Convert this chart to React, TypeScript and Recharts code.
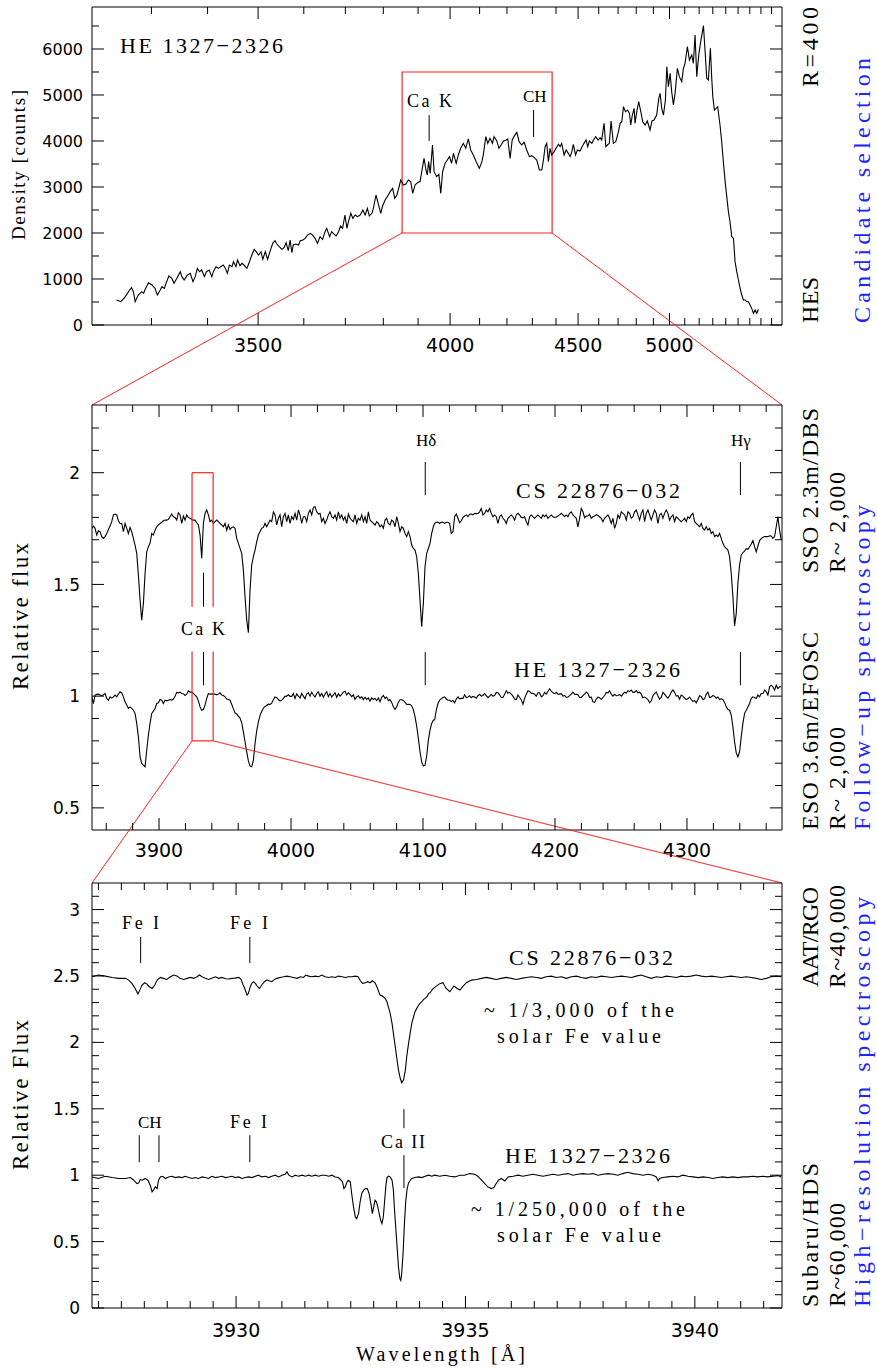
import React from 'react';
import { LineChart, Line, XAxis, YAxis, ReferenceArea, ReferenceLine } from 'recharts';

// ================= DATA =================
// Panel 1: HES objective-prism spectrum, [wavelength Å, density counts]
const HES_SPECTRUM: [number, number][] = [
  [3243,543],[3250,507],[3257,616],[3264,761],[3267,812],[3270,725],[3273,507],[3278,652],[3284,725],[3287,688],
  [3289,761],[3295,920],[3301,870],[3306,797],[3310,652],[3315,761],[3318,833],[3322,797],[3326,942],[3330,1065],
  [3335,1015],[3339,906],[3344,1015],[3350,1159],[3353,1051],[3357,978],[3363,1087],[3368,1123],[3373,942],[3377,1051],
  [3381,1232],[3385,1159],[3389,1196],[3394,1051],[3398,1159],[3403,1196],[3408,1051],[3411,1159],[3416,1268],[3421,1232],
  [3425,1268],[3430,1304],[3434,1232],[3438,1123],[3442,1304],[3447,1268],[3450,1377],[3455,1268],[3458,1413],[3463,1290],
  [3467,1341],[3471,1304],[3477,1232],[3481,1341],[3487,1522],[3492,1645],[3496,1594],[3501,1522],[3506,1594],[3510,1428],
  [3515,1594],[3520,1428],[3525,1594],[3531,1775],[3536,1833],[3540,1761],[3545,1703],[3551,1645],[3556,1688],[3560,1790],
  [3565,1616],[3569,1848],[3573,1573],[3576,1739],[3582,1761],[3588,1739],[3592,1833],[3598,1848],[3603,1884],[3608,1949],
  [3615,1993],[3620,1957],[3626,1884],[3632,1775],[3638,1920],[3644,1862],[3650,2029],[3654,2102],[3661,1920],[3666,2029],
  [3670,1993],[3677,1935],[3683,2029],[3688,2152],[3693,2102],[3699,2391],[3704,2102],[3709,2283],[3714,2428],[3719,2319],
  [3725,2391],[3731,2355],[3738,2391],[3745,2500],[3751,2391],[3757,2536],[3762,2370],[3769,2428],[3773,2536],[3780,2826],
  [3787,2609],[3793,2428],[3798,2587],[3805,2718],[3811,2790],[3819,2899],[3826,2971],[3832,2754],[3838,2826],[3842,2935],
  [3849,3152],[3857,3044],[3864,3065],[3871,3152],[3878,3116],[3884,2862],[3891,3044],[3896,3080],[3904,3116],
  [3906,3116],[3911,3334],[3918,3623],[3924,3370],[3928,3261],[3932,3551],[3937,3297],[3944,3913],[3949,3334],[3957,3225],
  [3964,3276],[3970,2862],[3976,3334],[3984,3515],[3991,3587],[3998,3660],[4005,3515],[4011,3732],[4020,3515],[4027,3696],
  [4035,3841],[4044,3949],[4052,3841],[4061,4044],[4069,3805],[4078,3696],[4088,3551],[4099,3406],[4108,3551],[4113,3696],
  [4122,4094],[4129,3949],[4137,4058],[4146,3949],[4152,4094],[4162,4000],[4170,3841],[4178,3913],[4187,4000],[4197,4022],
  [4203,4044],[4212,3623],[4220,4022],[4229,4116],[4238,4188],[4247,3986],[4257,3913],[4267,3971],[4277,3805],[4288,3660],
  [4297,3681],[4308,3638],[4318,3587],[4329,3370],[4339,3370],[4346,3587],[4353,3877],[4360,3949],[4367,3551],[4374,3841],
  [4381,3696],[4392,3768],[4400,3841],[4411,3928],[4418,3877],[4425,3949],[4436,3696],[4445,3805],[4455,3732],[4463,3660],
  [4471,3768],[4478,3928],[4488,3696],[4497,3805],[4509,3783],[4519,3877],[4528,3949],[4538,4022],[4546,3877],[4554,4000],
  [4566,3949],[4574,4022],[4585,4094],[4597,4022],[4607,4073],[4615,4022],[4627,4384],[4636,3877],[4644,3913],[4654,3949],
  [4663,4435],[4675,3949],[4688,3986],[4702,4203],[4711,4384],[4720,4420],[4729,4746],[4740,4638],[4751,4674],[4762,4601],
  [4769,4348],[4778,4565],[4788,4710],[4793,4384],[4803,4638],[4814,4855],[4826,4638],[4837,4420],[4851,4348],[4864,4435],
  [4880,4239],[4892,4435],[4904,4457],[4920,4565],[4933,4928],[4941,5036],[4951,4710],[4962,4565],[4974,4892],[4983,5616],
  [4993,5181],[5004,5471],[5014,5073],[5025,4783],[5036,5036],[5051,5580],[5064,5399],[5080,5290],[5091,5580],[5102,5689],
  [5118,6051],[5132,5761],[5148,5870],[5159,5689],[5171,6305],[5183,5399],[5197,5870],[5211,6160],[5231,6507],[5243,5942],
  [5255,5363],[5267,5326],[5282,6015],[5292,5363],[5300,4964],[5312,4674],[5325,4710],[5337,4746],[5355,4348],[5368,3986],
  [5381,3551],[5395,3116],[5408,2790],[5421,2464],[5434,2246],[5448,1920],[5462,1884],[5475,1377],[5489,1159],[5503,978],
  [5517,797],[5531,652],[5545,543],[5559,543],[5574,507],[5588,507],[5603,435],[5617,362],[5632,254],[5647,326],
  [5662,254],[5677,341],
];
const HES_X_RANGE = [3205, 5903];
const HES_Y_RANGE = [0, 6913];
const HES_X_TICKS = [3300,3400,3500,3600,3700,3800,3900,4000,4100,4200,4300,4400,4500,4600,4700,4800,4900,5000,5100,5200,5300,5400,5500,5600,5700,5800];
const HES_X_MAJOR = [3500, 4000, 4500, 5000];
const HES_Y_TICKS = [0,500,1000,1500,2000,2500,3000,3500,4000,4500,5000,5500,6000,6500];
const HES_Y_MAJOR = [0,1000,2000,3000,4000,5000,6000];
const HES_BOX = [3853, 4383, 2000, 5500];

// Panel 2: follow-up spectra, relative flux sampled every MID_STEP Å
const MID_A_START = 3849.0;
const MID_B_START = 4108.8;
const MID_STEP = 1.2626;
const CS_MID_A = [
1.751,1.761,1.751,1.721,1.740,1.736,1.714,1.706,1.714,1.728,
1.746,1.761,1.781,1.811,1.815,1.811,1.785,1.773,1.773,1.736,
1.773,1.751,1.728,1.755,1.736,1.706,1.676,1.639,1.542,1.430,
1.340,1.415,1.549,1.646,1.669,1.684,1.728,1.721,1.743,1.758,
1.766,1.773,1.778,1.785,1.788,1.788,1.791,1.803,1.815,1.803,
1.800,1.788,1.821,1.811,1.773,1.806,1.788,1.811,1.800,1.796,
1.791,1.788,1.788,1.776,1.766,1.721,1.617,1.773,1.818,1.833,
1.811,1.781,1.788,1.773,1.781,1.788,1.781,1.773,1.766,1.758,
1.773,1.743,1.766,1.746,1.755,1.758,1.751,1.706,1.684,1.661,
1.639,1.564,1.445,1.340,1.284,1.475,1.587,1.624,1.654,1.691,
1.721,1.736,1.751,1.755,1.773,1.758,1.773,1.788,1.781,1.825,
1.811,1.766,1.796,1.811,1.758,1.803,1.818,1.781,1.811,1.773,
1.803,1.791,1.818,1.788,1.833,1.811,1.773,1.803,1.803,1.781,
1.818,1.833,1.811,1.845,1.848,1.825,1.815,1.818,1.781,1.796,
1.773,1.788,1.811,1.825,1.803,1.796,1.811,1.788,1.825,1.796,
1.811,1.788,1.803,1.773,1.815,1.796,1.788,1.781,1.811,1.773,
1.796,1.788,1.811,1.781,1.803,1.773,1.825,1.788,1.781,1.773,
1.766,1.781,1.773,1.758,1.766,1.751,1.788,1.796,1.773,1.766,
1.788,1.781,1.758,1.803,1.773,1.736,1.758,1.751,1.728,1.714,
1.736,1.714,1.676,1.661,1.654,1.624,1.549,1.430,1.311,1.415,
1.579,1.639,1.661,1.684,1.728,1.758,
];
const CS_MID_B = [
1.773,1.778,1.779,1.773,1.779,1.778,1.773,1.778,1.778,1.773,
1.728,1.736,1.803,1.815,1.796,1.776,1.785,1.800,1.806,1.811,
1.803,1.814,1.815,1.811,1.818,1.817,1.818,1.825,1.840,1.811,
1.818,1.833,1.825,1.840,1.818,1.803,1.811,1.803,1.773,1.803,
1.811,1.796,1.788,1.773,1.796,1.803,1.811,1.803,1.788,1.811,
1.818,1.811,1.800,1.799,1.803,1.781,1.766,1.803,1.811,1.803,
1.796,1.803,1.811,1.803,1.796,1.811,1.803,1.811,1.796,1.803,
1.811,1.803,1.800,1.802,1.806,1.811,1.818,1.811,1.803,1.811,
1.803,1.818,1.825,1.811,1.803,1.796,1.758,1.796,1.840,1.825,
1.799,1.806,1.806,1.814,1.796,1.803,1.806,1.812,1.809,1.803,
1.796,1.781,1.796,1.803,1.811,1.796,1.773,1.796,1.751,1.773,
1.811,1.796,1.825,1.818,1.811,1.788,1.825,1.818,1.796,1.803,
1.825,1.833,1.811,1.788,1.818,1.833,1.781,1.818,1.833,1.811,
1.788,1.811,1.833,1.818,1.773,1.811,1.818,1.796,1.818,1.833,
1.818,1.788,1.803,1.811,1.781,1.803,1.796,1.788,1.781,1.788,
1.796,1.781,1.803,1.796,1.811,1.818,1.781,1.773,1.766,1.758,
1.773,1.751,1.743,1.758,1.743,1.751,1.728,1.736,1.714,1.721,
1.714,1.728,1.706,1.684,1.669,1.661,1.654,1.624,1.549,1.445,
1.314,1.370,1.505,1.587,1.631,1.642,1.649,1.660,1.657,1.669,
1.681,1.696,1.669,1.646,1.672,1.696,1.705,1.711,1.714,1.714,
1.714,1.718,1.717,1.706,1.714,1.758,1.803,1.743,1.699,
];
const HE_MID_A = [
0.997,0.967,1.005,1.008,1.009,1.005,1.002,1.006,1.012,0.990,
0.982,0.997,0.991,0.997,1.005,0.997,1.009,1.020,1.015,0.997,
0.975,0.960,0.945,0.952,0.945,0.937,0.923,0.878,0.818,0.728,
0.699,0.691,0.684,0.758,0.826,0.878,0.923,0.933,0.945,0.967,
0.970,0.985,0.982,0.967,0.982,0.979,0.982,0.985,0.982,0.987,
1.000,1.017,1.015,1.018,1.012,1.011,1.003,1.009,1.024,1.018,
1.018,1.012,1.005,0.997,0.979,0.952,0.937,0.940,0.960,0.990,
1.012,1.009,1.009,1.009,1.009,1.006,1.009,1.015,1.005,1.003,
0.997,0.987,0.985,0.982,0.964,0.943,0.925,0.920,0.911,0.902,
0.881,0.840,0.796,0.751,0.710,0.687,0.684,0.713,0.788,0.845,
0.885,0.914,0.931,0.946,0.954,0.958,0.964,0.963,0.969,0.984,
0.996,0.993,0.985,0.978,0.982,0.990,0.999,1.000,1.006,0.999,
0.999,1.012,0.990,1.010,1.000,0.992,1.012,1.000,0.988,1.010,
1.015,1.000,1.018,1.005,0.996,1.012,1.020,1.000,1.012,0.995,
1.010,1.020,0.998,1.012,0.996,1.006,1.015,0.995,1.010,1.000,
1.008,1.018,1.022,1.005,1.015,1.008,0.998,1.006,0.985,0.997,
1.002,0.990,0.998,0.984,0.995,0.985,0.992,0.978,0.992,0.985,
0.990,0.980,0.992,0.975,0.995,1.003,0.990,0.996,0.980,0.985,
0.972,0.952,0.940,0.952,0.973,0.984,0.984,0.981,0.972,0.963,
0.964,0.963,0.957,0.940,0.908,0.866,0.811,0.751,0.706,0.687,
0.691,0.731,0.803,0.848,0.878,0.893,
];
const HE_MID_B = [
0.893,0.937,0.967,0.982,0.988,0.994,0.997,0.987,0.982,0.982,
0.976,0.981,0.970,0.987,0.997,0.988,0.990,0.990,1.006,0.994,
0.996,1.002,0.993,0.999,0.996,0.991,1.002,1.008,1.000,1.003,
1.011,1.002,0.993,1.000,1.008,1.000,1.003,1.017,1.015,1.006,
0.994,0.994,1.009,1.024,1.013,1.017,1.009,1.000,0.987,0.985,
1.005,0.994,0.984,0.964,0.990,1.009,1.024,1.021,1.012,1.013,
1.009,1.000,1.015,1.015,0.997,1.002,1.017,1.009,1.021,1.033,
1.022,1.015,1.011,1.017,1.009,1.009,1.011,1.000,1.003,0.994,
0.996,1.002,1.009,1.018,1.009,1.008,1.006,0.994,0.994,1.002,
1.009,1.018,1.012,0.994,0.996,0.975,0.972,0.987,0.996,0.993,
0.985,0.994,1.003,1.017,1.015,1.024,1.009,1.000,1.008,1.002,
1.003,1.008,1.000,1.009,1.018,1.013,1.024,1.021,1.027,1.017,
1.018,1.025,1.015,1.018,1.009,0.993,0.996,0.991,0.985,0.970,
0.979,1.002,1.011,1.018,1.002,0.987,0.994,1.017,1.009,0.999,
0.991,1.002,1.018,1.028,1.017,1.000,1.002,0.987,1.005,1.000,
0.991,0.985,0.988,0.996,0.985,0.976,0.981,0.970,0.985,1.002,
0.999,0.985,0.988,1.009,1.018,0.994,0.996,1.003,0.999,0.991,
0.996,0.985,0.988,0.985,0.972,0.952,0.940,0.937,0.915,0.863,
0.796,0.746,0.728,0.751,0.818,0.878,0.923,0.937,0.952,0.967,
0.990,0.997,0.994,0.990,1.005,0.997,1.012,1.012,1.027,1.020,
1.005,1.042,1.049,1.042,1.027,1.049,1.034,1.042,1.042,
];
const MID_X_RANGE = [3849.2, 4372];
const MID_Y_RANGE = [0.401, 2.303];
const MID_X_TICKS = [3860,3880,3900,3920,3940,3960,3980,4000,4020,4040,4060,4080,4100,4120,4140,4160,4180,4200,4220,4240,4260,4280,4300,4320,4340,4360];
const MID_X_MAJOR = [3900, 4000, 4100, 4200, 4300];
const MID_Y_TICKS = [0.5,0.6,0.7,0.8,0.9,1.0,1.1,1.2,1.3,1.4,1.5,1.6,1.7,1.8,1.9,2.0,2.1,2.2];
const MID_Y_MAJOR = [0.5, 1, 1.5, 2];
const MID_BOX = [3925, 3941, 0.8, 2.0];
const MID_BOX_GAP = [1.2, 1.4];

// Panel 3: high-resolution spectra, [wavelength Å, relative flux]
const CS_HI: [number, number][] = [
[3926.86,2.494],[3927.00,2.507],[3927.15,2.499],[3927.30,2.489],[3927.44,2.482],[3927.59,2.482],[3927.66,2.469],[3927.73,2.444],[3927.80,2.406],[3927.86,2.364],
[3927.91,2.399],[3927.95,2.432],[3928.01,2.449],[3928.06,2.439],[3928.11,2.419],[3928.17,2.406],[3928.23,2.432],[3928.28,2.469],[3928.35,2.489],[3928.42,2.482],
[3928.49,2.474],[3928.57,2.494],[3928.64,2.507],[3928.71,2.499],[3928.78,2.482],[3928.86,2.474],[3928.93,2.482],[3929.00,2.489],[3929.08,2.482],[3929.15,2.494],
[3929.20,2.507],[3929.26,2.494],[3929.33,2.482],[3929.40,2.474],[3929.47,2.482],[3929.55,2.494],[3929.62,2.482],[3929.69,2.489],[3929.77,2.479],[3929.84,2.477],
[3929.91,2.482],[3929.98,2.484],[3930.06,2.489],[3930.11,2.474],[3930.14,2.444],[3930.19,2.406],[3930.24,2.356],[3930.27,2.369],[3930.31,2.419],[3930.35,2.449],
[3930.38,2.457],[3930.42,2.444],[3930.47,2.419],[3930.51,2.406],[3930.56,2.432],[3930.62,2.457],[3930.67,2.469],[3930.72,2.464],[3930.78,2.457],[3930.84,2.474],
[3930.89,2.482],[3930.96,2.489],[3931.04,2.494],[3931.11,2.499],[3931.18,2.494],[3931.25,2.489],[3931.33,2.482],[3931.40,2.494],[3931.47,2.489],[3931.52,2.507],
[3931.58,2.499],[3931.65,2.494],[3931.73,2.499],[3931.80,2.494],[3931.87,2.507],[3931.94,2.494],[3932.02,2.489],[3932.09,2.494],[3932.16,2.489],[3932.23,2.499],
[3932.31,2.494],[3932.38,2.489],[3932.45,2.494],[3932.52,2.494],[3932.60,2.499],[3932.66,2.494],[3932.71,2.464],[3932.76,2.444],[3932.82,2.449],[3932.87,2.457],
[3932.92,2.449],[3932.97,2.464],[3933.03,2.449],[3933.07,2.419],[3933.11,2.381],[3933.14,2.356],[3933.19,2.349],[3933.25,2.331],[3933.29,2.306],[3933.32,2.268],
[3933.36,2.218],[3933.40,2.143],[3933.43,2.067],[3933.47,1.967],[3933.51,1.866],[3933.54,1.791],[3933.58,1.728],[3933.61,1.696],[3933.65,1.716],[3933.69,1.791],
[3933.72,1.892],[3933.76,1.992],[3933.80,2.080],[3933.83,2.143],[3933.87,2.193],[3933.90,2.231],[3933.94,2.256],[3933.98,2.281],[3934.01,2.293],[3934.05,2.306],
[3934.09,2.324],[3934.12,2.331],[3934.16,2.344],[3934.20,2.369],[3934.23,2.374],[3934.27,2.394],[3934.30,2.406],[3934.33,2.414],[3934.44,2.442],[3934.51,2.449],
[3934.58,2.406],[3934.66,2.381],[3934.71,2.406],[3934.75,2.424],[3934.82,2.406],[3934.88,2.394],[3934.95,2.424],[3935.02,2.449],[3935.13,2.469],[3935.24,2.474],
[3935.35,2.482],[3935.46,2.489],[3935.56,2.482],[3935.67,2.474],[3935.78,2.482],[3935.89,2.489],[3936.00,2.482],[3936.11,2.474],[3936.22,2.482],[3936.33,2.489],
[3936.44,2.494],[3936.55,2.489],[3936.65,2.482],[3936.76,2.494],[3936.87,2.499],[3936.98,2.489],[3937.09,2.494],[3937.20,2.482],[3937.31,2.494],[3937.42,2.499],
[3937.53,2.489],[3937.63,2.482],[3937.74,2.494],[3937.85,2.489],[3937.96,2.499],[3938.07,2.494],[3938.18,2.489],[3938.29,2.494],[3938.40,2.499],[3938.51,2.494],
[3938.62,2.489],[3938.72,2.499],[3938.83,2.507],[3938.94,2.494],[3939.05,2.482],[3939.16,2.494],[3939.27,2.489],[3939.38,2.499],[3939.49,2.494],[3939.60,2.489],
[3939.70,2.499],[3939.81,2.494],[3939.92,2.499],[3940.03,2.507],[3940.14,2.499],[3940.25,2.494],[3940.36,2.499],[3940.47,2.494],[3940.58,2.489],[3940.68,2.494],
[3940.79,2.499],[3940.90,2.494],[3941.01,2.489],[3941.12,2.494],[3941.23,2.489],[3941.34,2.482],[3941.45,2.474],[3941.56,2.482],[3941.66,2.494],[3941.77,2.499],
[3941.88,2.494],
];
const HE_HI: [number, number][] = [
[3926.86,0.987],[3927.00,0.975],[3927.15,0.992],[3927.30,0.982],[3927.44,0.975],[3927.59,0.975],[3927.70,0.982],[3927.77,0.962],[3927.84,0.937],[3927.88,0.942],
[3927.91,0.967],[3927.96,0.962],[3928.02,0.975],[3928.08,0.962],[3928.13,0.924],[3928.17,0.874],[3928.20,0.887],[3928.24,0.912],[3928.28,0.899],[3928.31,0.962],
[3928.35,0.987],[3928.40,0.992],[3928.46,0.975],[3928.53,0.987],[3928.60,0.992],[3928.68,0.982],[3928.75,0.987],[3928.82,0.982],[3928.89,0.992],[3928.97,0.982],
[3929.04,0.975],[3929.11,0.982],[3929.18,0.975],[3929.26,0.987],[3929.33,0.982],[3929.40,0.975],[3929.47,0.992],[3929.55,0.982],[3929.62,0.987],[3929.69,0.992],
[3929.77,0.982],[3929.84,0.987],[3929.91,0.992],[3929.98,0.982],[3930.06,0.987],[3930.13,0.975],[3930.20,0.982],[3930.27,0.987],[3930.35,0.982],[3930.42,0.992],
[3930.49,1.000],[3930.56,0.987],[3930.64,0.992],[3930.71,0.982],[3930.78,0.992],[3930.85,1.000],[3930.93,0.987],[3931.00,1.000],[3931.07,1.007],[3931.11,1.025],
[3931.15,1.000],[3931.22,0.987],[3931.29,1.000],[3931.36,0.992],[3931.44,1.000],[3931.51,0.992],[3931.58,1.000],[3931.65,0.992],[3931.73,1.000],[3931.80,0.992],
[3931.87,1.000],[3931.94,1.000],[3932.02,0.992],[3932.09,1.000],[3932.16,0.987],[3932.23,0.982],[3932.29,0.962],[3932.32,0.950],[3932.35,0.899],[3932.38,0.912],
[3932.42,0.950],[3932.45,0.962],[3932.49,0.950],[3932.52,0.862],[3932.56,0.761],[3932.60,0.686],[3932.63,0.673],[3932.67,0.711],[3932.71,0.811],[3932.74,0.862],
[3932.78,0.887],[3932.82,0.899],[3932.86,0.899],[3932.90,0.862],[3932.95,0.761],[3932.97,0.711],[3933.00,0.761],[3933.03,0.811],[3933.06,0.799],[3933.09,0.761],
[3933.12,0.711],[3933.15,0.661],[3933.18,0.636],[3933.21,0.686],[3933.24,0.811],[3933.27,0.937],[3933.29,0.982],[3933.32,0.992],[3933.36,0.987],[3933.40,0.962],
[3933.43,0.887],[3933.45,0.761],[3933.48,0.610],[3933.51,0.460],[3933.54,0.309],[3933.57,0.221],[3933.59,0.208],[3933.61,0.259],[3933.64,0.409],[3933.67,0.636],
[3933.70,0.811],[3933.73,0.899],[3933.76,0.942],[3933.80,0.962],[3933.83,0.975],[3933.90,0.982],[3933.98,0.987],[3934.05,0.982],[3934.12,0.992],[3934.20,1.000],
[3934.27,0.992],[3934.33,1.000],[3934.44,0.992],[3934.55,1.000],[3934.66,0.992],[3934.77,0.987],[3934.88,1.000],[3934.98,1.000],[3935.09,1.012],[3935.20,1.007],
[3935.27,0.992],[3935.35,0.962],[3935.42,0.937],[3935.49,0.912],[3935.56,0.899],[3935.62,0.907],[3935.67,0.937],[3935.72,0.962],[3935.78,0.975],[3935.86,0.957],
[3935.93,0.987],[3936.04,0.992],[3936.15,1.000],[3936.25,0.992],[3936.36,1.000],[3936.47,1.007],[3936.58,1.000],[3936.69,0.992],[3936.80,1.000],[3936.91,1.007],
[3937.02,1.000],[3937.13,1.007],[3937.24,1.012],[3937.34,1.000],[3937.45,1.007],[3937.56,1.012],[3937.67,1.007],[3937.78,1.012],[3937.89,1.000],[3938.00,1.007],
[3938.11,1.012],[3938.22,1.007],[3938.32,1.000],[3938.43,1.012],[3938.54,1.022],[3938.65,1.012],[3938.76,1.007],[3938.87,1.000],[3938.98,1.007],[3939.09,1.000],
[3939.16,0.987],[3939.20,0.957],[3939.23,0.975],[3939.30,0.982],[3939.41,0.987],[3939.52,0.992],[3939.63,0.987],[3939.74,1.000],[3939.85,0.992],[3939.96,0.987],
[3940.07,0.982],[3940.18,0.987],[3940.29,0.982],[3940.39,0.975],[3940.50,0.982],[3940.61,0.987],[3940.72,0.982],[3940.83,0.987],[3940.94,0.982],[3941.05,0.987],
[3941.16,0.987],[3941.27,0.992],[3941.37,0.987],[3941.48,0.992],[3941.59,0.987],[3941.70,0.992],[3941.81,0.997],[3941.88,0.987],
];
const HI_X_RANGE = [3926.86, 3941.9];
const HI_Y_RANGE = [0, 3.2];
const HI_X_TICKS = [3927,3927.5,3928,3928.5,3929,3929.5,3930,3930.5,3931,3931.5,3932,3932.5,3933,3933.5,3934,3934.5,3935,3935.5,3936,3936.5,3937,3937.5,3938,3938.5,3939,3939.5,3940,3940.5,3941,3941.5];
const HI_X_MAJOR = [3930, 3935, 3940];
const HI_Y_TICKS = [0,0.1,0.2,0.3,0.4,0.5,0.6,0.7,0.8,0.9,1.0,1.1,1.2,1.3,1.4,1.5,1.6,1.7,1.8,1.9,2.0,2.1,2.2,2.3,2.4,2.5,2.6,2.7,2.8,2.9,3.0,3.1];
const HI_Y_MAJOR = [0, 0.5, 1, 1.5, 2, 2.5, 3];

// Line identifications: [wavelength, lower value, upper value]
const HES_MARKS: [number, number, number][] = [[3933.7, 4000, 4565], [4305, 4087, 4674]];
const MID_MARKS: [number, number, number][] = [
  [3933.7, 1.40, 1.553], [3933.7, 1.049, 1.197],
  [4101.7, 1.90, 2.048], [4101.7, 1.049, 1.197],
  [4340.5, 1.90, 2.048], [4340.5, 1.049, 1.197],
];
const HI_MARKS: [number, number, number][] = [
  [3927.92, 2.598, 2.794], [3930.30, 2.598, 2.794],
  [3927.89, 1.098, 1.301], [3928.32, 1.098, 1.301], [3930.30, 1.098, 1.301],
  [3933.66, 1.354, 1.497], [3933.66, 0.902, 1.151],
];

// ================= LAYOUT / STYLE =================
const PAGE_W = 877;
const PAGE_H = 1372;
const P1 = { left: 92, right: 782, top: 7, bottom: 325 };
const P2 = { left: 92, right: 782, top: 405, bottom: 830 };
const P3 = { left: 92, right: 782, top: 883, bottom: 1308 };
const RED = '#ff2222';
const BLUE = '#2222ff';
const TICK_MAJOR = 12;
const TICK_MINOR = 7;
const NUM_FONT = "'DejaVu Sans', 'Liberation Sans', sans-serif";
const TXT_FONT = "'Liberation Serif', 'DejaVu Serif', serif";

const hesU = (l: number) => -100000 / (l - 1500);
const near = (a: number, b: number) => Math.abs(a - b) < 1e-6;

function valueAtPage(py: number, rect: any, range: number[]) {
  return range[1] - ((py - rect.top) / (rect.bottom - rect.top)) * (range[1] - range[0]);
}

function makeXTick(majors: number[], label: (v: number) => string, span: number, fontSize: number, offset: number) {
  return (props: any) => {
    const { x, y, payload } = props;
    const v = payload.value;
    const major = majors.some((m) => near(m, v));
    const len = major ? TICK_MAJOR : TICK_MINOR;
    return (
      <g>
        <line x1={x} y1={y} x2={x} y2={y - len} stroke="#000" strokeWidth={1} />
        <line x1={x} y1={y - span} x2={x} y2={y - span + len} stroke="#000" strokeWidth={1} />
        {major ? (
          <text x={x} y={y + offset} textAnchor="middle" fontSize={fontSize} fontFamily={NUM_FONT} fill="#000">
            {label(v)}
          </text>
        ) : null}
      </g>
    );
  };
}

function makeYTick(majors: number[], span: number, fontSize: number, offset: number) {
  return (props: any) => {
    const { x, y, payload } = props;
    const v = payload.value;
    const major = majors.some((m) => near(m, v));
    const len = major ? TICK_MAJOR : TICK_MINOR;
    return (
      <g>
        <line x1={x} y1={y} x2={x + len} y2={y} stroke="#000" strokeWidth={1} />
        <line x1={x + span} y1={y} x2={x + span - len} y2={y} stroke="#000" strokeWidth={1} />
        {major ? (
          <text x={x - offset} y={y + fontSize * 0.36} textAnchor="end" fontSize={fontSize} fontFamily={NUM_FONT} fill="#000">
            {String(v)}
          </text>
        ) : null}
      </g>
    );
  };
}

const hesData = HES_SPECTRUM.map(([l, c]) => ({ x: hesU(l), y: c }));
const gridData = (start: number, vals: number[]) => vals.map((v, i) => ({ x: start + i * MID_STEP, y: v }));
const csMid = gridData(MID_A_START, CS_MID_A).concat(gridData(MID_B_START, CS_MID_B));
const heMid = gridData(MID_A_START, HE_MID_A).concat(gridData(MID_B_START, HE_MID_B));
const csHi = CS_HI.map(([l, f]) => ({ x: l, y: f }));
const heHi = HE_HI.map(([l, f]) => ({ x: l, y: f }));

const hesTickLabel = (u: number) => {
  const found = HES_X_TICKS.find((l) => near(hesU(l), u));
  return found ? String(found) : '';
};

const margins = (r: any) => ({ top: r.top, left: r.left - 1, right: PAGE_W - r.right, bottom: PAGE_H - r.bottom - 1 });

const layer: React.CSSProperties = { position: 'absolute', left: 0, top: 0 };

// Texts (layout positions in page pixels): [text, x, baseline y, length (0 = natural), size]
const H_TEXTS: [string, number, number, number, number][] = [
  ['HE 1327\u22122326', 120, 53, 163, 22],
  ['Ca  K', 407, 107, 45, 18],
  ['CH', 523, 102, 0, 17],
  ['H\u03b4', 416, 446, 0, 17],
  ['H\u03b3', 731, 446, 0, 17],
  ['Ca  K', 181, 635, 44, 18],
  ['CS 22876\u2212032', 516, 498, 164, 22],
  ['HE 1327\u22122326', 514, 677, 166, 22],
  ['Fe  I', 122, 929, 37, 18],
  ['Fe  I', 230, 929, 38, 18],
  ['CH', 138, 1128, 0, 17],
  ['Fe  I', 230, 1128, 37, 18],
  ['Ca  II', 381, 1148, 44, 18],
  ['CS 22876\u2212032', 509, 965, 164, 22],
  ['~ 1/3,000 of the', 484, 1017, 190, 20],
  ['solar Fe value', 497, 1043, 164, 20],
  ['HE 1327\u22122326', 505, 1163, 165, 22],
  ['~ 1/250,000 of the', 471, 1216, 214, 20],
  ['solar Fe value', 497, 1242, 164, 20],
  ['Wavelength [\u00c5]', 356, 1361, 169, 20],
];
// [text, baseline x, bottom y, length, size, colour]
const V_TEXTS: [string, number, number, number, number, string][] = [
  ['R=400', 818, 87, 80, 24, '#000'],
  ['HES', 818, 323, 46, 24, '#000'],
  ['Candidate selection', 870, 323, 265, 24, BLUE],
  ['SSO 2.3m/DBS', 818, 573, 165, 24, '#000'],
  ['R~ 2,000', 845, 573, 101, 24, '#000'],
  ['ESO 3.6m/EFOSC', 818, 830, 198, 24, '#000'],
  ['R~ 2,000', 845, 830, 103, 24, '#000'],
  ['Follow\u2212up spectroscopy', 870, 830, 325, 24, BLUE],
  ['AAT/RGO', 818, 987, 100, 24, '#000'],
  ['R~40,000', 845, 988, 103, 24, '#000'],
  ['Subaru/HDS', 818, 1307, 144, 24, '#000'],
  ['R~60,000', 845, 1307, 104, 24, '#000'],
  ['High\u2212resolution spectroscopy', 870, 1307, 410, 24, BLUE],
  ['Density [counts]', 25, 240, 150, 19, '#000'],
  ['Relative flux', 28, 690, 147, 23, '#000'],
  ['Relative Flux', 28, 1170, 150, 23, '#000'],
];

export default function App() {
  const p2TopVal = valueAtPage(P2.top, P1, HES_Y_RANGE);
  const p3TopVal = valueAtPage(P3.top, P2, MID_Y_RANGE);
  const [bx1, bx2, by1, by2] = HES_BOX;
  const [mx1, mx2, my1, my2] = MID_BOX;
  return (
    <div style={{ position: 'absolute', left: 0, top: 0, width: PAGE_W, height: PAGE_H, background: '#fff' }}>
      {/* Panel 1 */}
      <div style={layer}>
        <LineChart width={PAGE_W} height={PAGE_H} margin={margins(P1)}>
          <XAxis type="number" dataKey="x" domain={[hesU(HES_X_RANGE[0]), hesU(HES_X_RANGE[1])]} allowDataOverflow
            ticks={HES_X_TICKS.map(hesU)} interval={0} height={1} tickSize={0} tickMargin={0} axisLine={false} tickLine={false}
            tick={makeXTick(HES_X_MAJOR.map(hesU), hesTickLabel, P1.bottom - P1.top, 19, 27)} />
          <YAxis type="number" domain={HES_Y_RANGE} allowDataOverflow ticks={HES_Y_TICKS} interval={0} width={1}
            tickSize={0} tickMargin={0} axisLine={false} tickLine={false}
            tick={makeYTick(HES_Y_MAJOR, P1.right - P1.left, 16, 9)} />
          <ReferenceArea x1={hesU(HES_X_RANGE[0])} x2={hesU(HES_X_RANGE[1])} y1={HES_Y_RANGE[0]} y2={HES_Y_RANGE[1]}
            fill="none" stroke="#000" strokeWidth={1} ifOverflow="visible" />
          <Line data={hesData} dataKey="y" type="linear" dot={false} stroke="#000" strokeWidth={1.1} isAnimationActive={false} />
          <ReferenceArea x1={hesU(bx1)} x2={hesU(bx2)} y1={by1} y2={by2} fill="none" stroke={RED} strokeWidth={1.2} ifOverflow="visible" />
          <ReferenceLine segment={[{ x: hesU(bx1), y: by1 }, { x: hesU(HES_X_RANGE[0]), y: p2TopVal }]} stroke={RED} strokeWidth={1} ifOverflow="visible" />
          <ReferenceLine segment={[{ x: hesU(bx2), y: by1 }, { x: hesU(HES_X_RANGE[1]), y: p2TopVal }]} stroke={RED} strokeWidth={1} ifOverflow="visible" />
          {HES_MARKS.map(([l, a, b], i) => (
            <ReferenceLine key={'hm' + i} segment={[{ x: hesU(l), y: a }, { x: hesU(l), y: b }]} stroke="#000" strokeWidth={1} ifOverflow="visible" />
          ))}
        </LineChart>
      </div>

      {/* Panel 2 */}
      <div style={layer}>
        <LineChart width={PAGE_W} height={PAGE_H} margin={margins(P2)}>
          <XAxis type="number" dataKey="x" domain={MID_X_RANGE} allowDataOverflow ticks={MID_X_TICKS} interval={0} height={1}
            tickSize={0} tickMargin={0} axisLine={false} tickLine={false}
            tick={makeXTick(MID_X_MAJOR, (v) => String(v), P2.bottom - P2.top, 19, 27)} />
          <YAxis type="number" domain={MID_Y_RANGE} allowDataOverflow ticks={MID_Y_TICKS} interval={0} width={1}
            tickSize={0} tickMargin={0} axisLine={false} tickLine={false}
            tick={makeYTick(MID_Y_MAJOR, P2.right - P2.left, 17, 12)} />
          <ReferenceArea x1={MID_X_RANGE[0]} x2={MID_X_RANGE[1]} y1={MID_Y_RANGE[0]} y2={MID_Y_RANGE[1]}
            fill="none" stroke="#000" strokeWidth={1} ifOverflow="visible" />
          <Line data={csMid} dataKey="y" type="linear" dot={false} stroke="#000" strokeWidth={1.1} isAnimationActive={false} />
          <Line data={heMid} dataKey="y" type="linear" dot={false} stroke="#000" strokeWidth={1.1} isAnimationActive={false} />
          <ReferenceLine segment={[{ x: mx1, y: my2 }, { x: mx2, y: my2 }]} stroke={RED} strokeWidth={1.2} ifOverflow="visible" />
          <ReferenceLine segment={[{ x: mx1, y: my1 }, { x: mx2, y: my1 }]} stroke={RED} strokeWidth={1.2} ifOverflow="visible" />
          <ReferenceLine segment={[{ x: mx1, y: my2 }, { x: mx1, y: MID_BOX_GAP[1] }]} stroke={RED} strokeWidth={1.2} ifOverflow="visible" />
          <ReferenceLine segment={[{ x: mx2, y: my2 }, { x: mx2, y: MID_BOX_GAP[1] }]} stroke={RED} strokeWidth={1.2} ifOverflow="visible" />
          <ReferenceLine segment={[{ x: mx1, y: MID_BOX_GAP[0] }, { x: mx1, y: my1 }]} stroke={RED} strokeWidth={1.2} ifOverflow="visible" />
          <ReferenceLine segment={[{ x: mx2, y: MID_BOX_GAP[0] }, { x: mx2, y: my1 }]} stroke={RED} strokeWidth={1.2} ifOverflow="visible" />
          <ReferenceLine segment={[{ x: mx1, y: my1 }, { x: MID_X_RANGE[0], y: p3TopVal }]} stroke={RED} strokeWidth={1} ifOverflow="visible" />
          <ReferenceLine segment={[{ x: mx2, y: my1 }, { x: MID_X_RANGE[1], y: p3TopVal }]} stroke={RED} strokeWidth={1} ifOverflow="visible" />
          {MID_MARKS.map(([l, a, b], i) => (
            <ReferenceLine key={'mm' + i} segment={[{ x: l, y: a }, { x: l, y: b }]} stroke="#000" strokeWidth={1} ifOverflow="visible" />
          ))}
        </LineChart>
      </div>

      {/* Panel 3 */}
      <div style={layer}>
        <LineChart width={PAGE_W} height={PAGE_H} margin={margins(P3)}>
          <XAxis type="number" dataKey="x" domain={HI_X_RANGE} allowDataOverflow ticks={HI_X_TICKS} interval={0} height={1}
            tickSize={0} tickMargin={0} axisLine={false} tickLine={false}
            tick={makeXTick(HI_X_MAJOR, (v) => String(v), P3.bottom - P3.top, 19, 29)} />
          <YAxis type="number" domain={HI_Y_RANGE} allowDataOverflow ticks={HI_Y_TICKS} interval={0} width={1}
            tickSize={0} tickMargin={0} axisLine={false} tickLine={false}
            tick={makeYTick(HI_Y_MAJOR, P3.right - P3.left, 17, 12)} />
          <ReferenceArea x1={HI_X_RANGE[0]} x2={HI_X_RANGE[1]} y1={HI_Y_RANGE[0]} y2={HI_Y_RANGE[1]}
            fill="none" stroke="#000" strokeWidth={1} ifOverflow="visible" />
          <Line data={csHi} dataKey="y" type="linear" dot={false} stroke="#000" strokeWidth={1.1} isAnimationActive={false} />
          <Line data={heHi} dataKey="y" type="linear" dot={false} stroke="#000" strokeWidth={1.1} isAnimationActive={false} />
          {HI_MARKS.map(([l, a, b], i) => (
            <ReferenceLine key={'im' + i} segment={[{ x: l, y: a }, { x: l, y: b }]} stroke="#000" strokeWidth={1} ifOverflow="visible" />
          ))}
        </LineChart>
      </div>

      {/* Text overlay */}
      <svg width={PAGE_W} height={PAGE_H} style={{ ...layer, pointerEvents: 'none' }}>
        {H_TEXTS.map(([t, x, y, len, size], i) => (
          <text key={'h' + i} x={x} y={y} textLength={len > 0 ? len : undefined} lengthAdjust={len > 0 ? 'spacing' : undefined}
            fontSize={size} fontFamily={TXT_FONT} fill="#000">
            {t}
          </text>
        ))}
        {V_TEXTS.map(([t, x, y, len, size, color], i) => (
          <text key={'v' + i} x={0} y={0} transform={`translate(${x},${y}) rotate(-90)`} textLength={len} lengthAdjust="spacing"
            fontSize={size} fontFamily={TXT_FONT} fill={color}>
            {t}
          </text>
        ))}
      </svg>
    </div>
  );
}
